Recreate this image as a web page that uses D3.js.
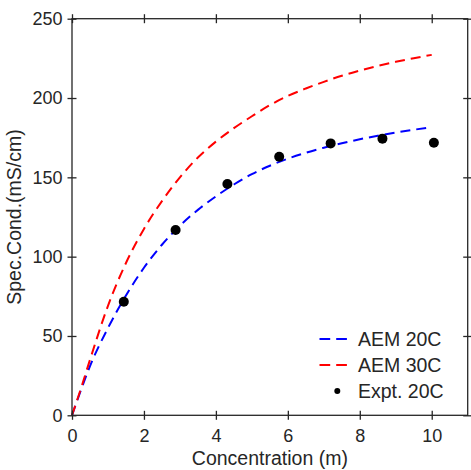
<!DOCTYPE html>
<html>
<head>
<meta charset="utf-8">
<script src="https://cdn.jsdelivr.net/npm/d3@7"></script>
<style>
  body { margin: 0; background: #fff; }
  text { font-family: "Liberation Sans", Arial, Helvetica, sans-serif; fill: #262626; }
</style>
</head>
<body>
<script>
// data
var modelX   = [0, 0.25, 0.5, 1, 1.5, 2, 2.5, 3, 3.5, 4, 4.5, 5, 5.5, 6, 6.5, 7, 7.5, 8, 8.5, 9, 9.5, 10];
var aem20    = [0, 16, 31, 55, 75.5, 93, 107.5, 119.5, 129.5, 138, 145.5, 152, 157.3, 161.8, 165.5, 168.7, 171.5, 174, 176.2, 178.2, 180, 181.6];
var aem30    = [0, 17, 35, 69, 96, 117.5, 135, 150, 162.5, 172.5, 181, 188.5, 195.5, 201.3, 206, 210.2, 214, 217.3, 220.2, 222.8, 225.1, 227.2];
var exptX    = [1.44, 2.88, 4.32, 5.76, 7.19, 8.63, 10.06];
var exptY    = [71.6, 116.8, 145.8, 163, 171.4, 174.4, 171.8];
var xTicks   = [0, 2, 4, 6, 8, 10];
var yTicks   = [0, 50, 100, 150, 200, 250];
var legendNames = ['AEM 20C', 'AEM 30C', 'Expt. 20C'];

var W = 471, H = 470;
var margin = { top: 18.7, right: 3.3, bottom: 54.7, left: 72 };
var w = W - margin.left - margin.right;
var h = H - margin.top - margin.bottom;

var x = d3.scaleLinear().domain([0, 11]).range([0, w]);
var y = d3.scaleLinear().domain([0, 250]).range([h, 0]);

var svg = d3.select('body').append('svg')
    .attr('width', W)
    .attr('height', H);

var g = svg.append('g')
    .attr('transform', 'translate(' + margin.left + ',' + margin.top + ')');

// curves
var line = d3.line()
    .x(function(d) { return x(d[0]); })
    .y(function(d) { return y(d[1]); })
    .curve(d3.curveMonotoneX);

var series = [
  { vals: aem20, color: '#0000ff' },
  { vals: aem30, color: '#ff0000' }
];
series.forEach(function(s) {
  g.append('path')
    .datum(modelX.map(function(v, i) { return [v, s.vals[i]]; }))
    .attr('d', line)
    .attr('fill', 'none')
    .attr('stroke', s.color)
    .attr('stroke-width', 2)
    .attr('stroke-dasharray', '10,6');
});

// experimental points
g.selectAll('circle.pt')
  .data(exptX.map(function(v, i) { return [v, exptY[i]]; }))
  .enter().append('circle')
    .attr('class', 'pt')
    .attr('cx', function(d) { return x(d[0]); })
    .attr('cy', function(d) { return y(d[1]); })
    .attr('r', 5)
    .attr('fill', '#000');

// axes (ticks cross the box line, like matlab)
function styleAxis(sel) {
  sel.select('.domain').remove();
  sel.selectAll('line').attr('stroke', '#262626').attr('stroke-width', 1.3);
  sel.selectAll('text').attr('font-size', 18).style('font-family', '"Liberation Sans", Arial, sans-serif').attr('fill', '#262626');
}

g.append('g')
  .attr('transform', 'translate(0,' + h + ')')
  .call(d3.axisBottom(x).tickValues(xTicks).tickSize(4.5).tickPadding(9))
  .call(styleAxis)
  .selectAll('.tick line').attr('y1', -4.5);

g.append('g')
  .call(d3.axisLeft(y).tickValues(yTicks).tickSize(4.5).tickPadding(5))
  .call(styleAxis)
  .selectAll('.tick line').attr('x1', 4.5);

g.append('g')
  .call(d3.axisTop(x).tickValues(xTicks).tickSize(4.5).tickFormat(''))
  .call(styleAxis)
  .selectAll('.tick line').attr('y1', 4.5);

g.append('g')
  .attr('transform', 'translate(' + w + ',0)')
  .call(d3.axisRight(y).tickValues(yTicks).tickSize(4.5).tickFormat(''))
  .call(styleAxis)
  .selectAll('.tick line').attr('x1', -4.5);

// box
g.append('rect')
  .attr('width', w)
  .attr('height', h)
  .attr('fill', 'none')
  .attr('stroke', '#262626')
  .attr('stroke-width', 1.3);

// axis labels
svg.append('text')
  .attr('x', margin.left + w / 2)
  .attr('y', 465)
  .attr('text-anchor', 'middle')
  .attr('font-size', 19.5)
  .text('Concentration (m)');

svg.append('text')
  .attr('transform', 'translate(21,' + (margin.top + h / 2) + ') rotate(-90)')
  .attr('text-anchor', 'middle')
  .attr('font-size', 19.5)
  .text('Spec.Cond.(mS/cm)');

// legend
var legend = svg.append('g');
var legRows = [339, 365, 391];
legendNames.forEach(function(name, i) {
  var row = legend.append('g').attr('transform', 'translate(0,' + legRows[i] + ')');
  if (i < 2) {
    row.append('line')
      .attr('x1', 319.5).attr('x2', 347)
      .attr('stroke', series[i].color)
      .attr('stroke-width', 2)
      .attr('stroke-dasharray', '10.7,6');
  } else {
    row.append('circle').attr('cx', 337.3).attr('r', 3).attr('fill', '#000');
  }
  row.append('text')
    .attr('x', 358)
    .attr('y', 7)
    .attr('font-size', 19.5)
    .attr('fill', '#000')
    .text(name);
});
</script>
</body>
</html>
